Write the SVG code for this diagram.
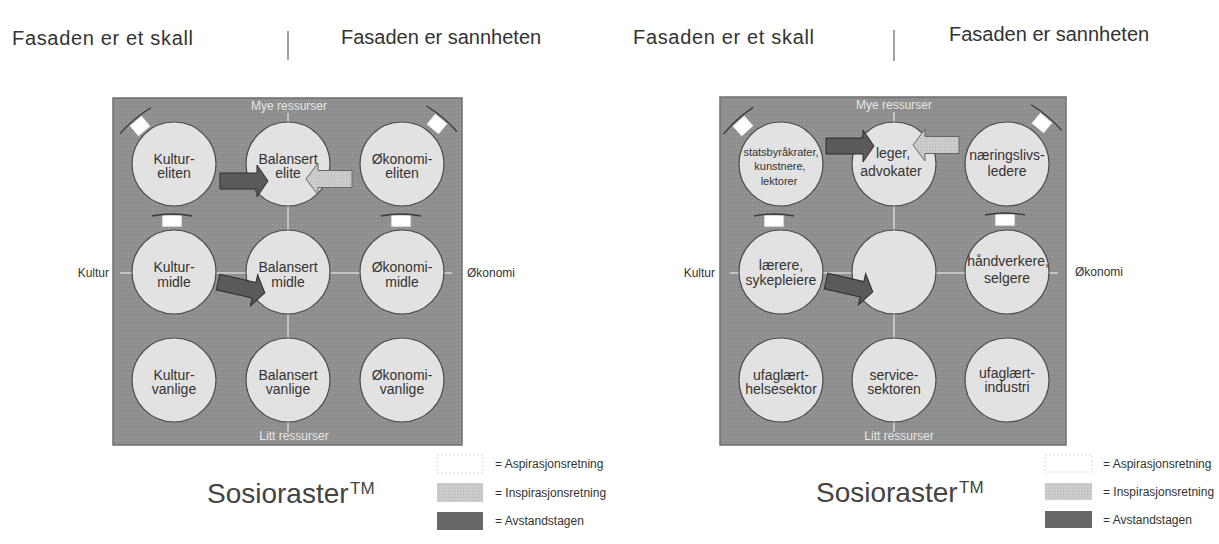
<svg xmlns="http://www.w3.org/2000/svg" width="1219" height="544" viewBox="0 0 1219 544">
<defs>
<pattern id="tex" width="4" height="4" patternUnits="userSpaceOnUse">
<rect width="4" height="4" fill="#8f8f8f"/><rect width="1" height="1" fill="#9b9b9b"/><rect x="2" y="2" width="1" height="1" fill="#858585"/><rect x="2" y="0" width="1" height="1" fill="#939393"/>
</pattern>
<pattern id="ltex" width="3" height="3" patternUnits="userSpaceOnUse">
<rect width="3" height="3" fill="#c9c9c9"/><rect width="1" height="1" fill="#d6d6d6"/><rect x="1" y="2" width="1" height="1" fill="#bdbdbd"/>
</pattern>
<path id="darkArrow" d="M0,-8 H37 V-16 L48,0 L37,16 V8 H0 Z"/>
<path id="lightArrow" d="M0,0 L12,-16 V-8.5 H46 V8.5 H12 V16 Z"/>
<g id="aspArrow">
<rect x="-10" y="-6" width="20" height="12" fill="#ffffff" stroke="#9a9a9a" stroke-width="0.8"/>
<path d="M-20,-5 Q0,-9 20,-5" fill="none" stroke="#3a3a3a" stroke-width="1.3"/>
</g>
<g id="aspArrowD">
<rect x="-8" y="-7" width="16" height="14" fill="#ffffff" stroke="#9a9a9a" stroke-width="0.8"/>
<path d="M-20,-7 Q0,-10 20,-7" fill="none" stroke="#3a3a3a" stroke-width="1.3"/>
</g>
</defs>
<style>
.hdr{font-family:"Liberation Sans",Arial,sans-serif;font-size:20px;fill:#333}
.panel{fill:url(#tex);stroke:#6f6f6f;stroke-width:1.5}
.axis{stroke:#d4d4d4;stroke-width:1.5;fill:none}
.node circle{fill:#e2e2e2;stroke:#4a4a4a;stroke-width:1.2}
.node text{font-family:"Liberation Sans",Arial,sans-serif;font-size:14px;fill:#333;text-anchor:middle}
.node text.sm{font-size:11px}
.res{font-family:"Liberation Sans",Arial,sans-serif;font-size:12px;fill:#e6e6e6;text-anchor:middle}
.axl{font-family:"Liberation Sans",Arial,sans-serif;font-size:12px;fill:#333}
.dark{fill:#5a5a5a;stroke:#2c2c2c;stroke-width:1}
.light{fill:url(#ltex);stroke:#666;stroke-width:1}
.leg{font-family:"Liberation Sans",Arial,sans-serif;font-size:12px;fill:#333}
.title{font-family:"Liberation Sans",Arial,sans-serif;font-size:28px;fill:#444}
.tm{font-family:"Liberation Sans",Arial,sans-serif;font-size:17px;fill:#444}
</style>
<rect width="1219" height="544" fill="#ffffff"/>

<!-- headers -->
<g id="headers">
<text class="hdr" x="12" y="45" textLength="181" lengthAdjust="spacing">Fasaden er et skall</text>
<line x1="288" y1="31" x2="288" y2="60" stroke="#444" stroke-width="1"/>
<text class="hdr" x="341" y="44">Fasaden er sannheten</text>
<text class="hdr" x="633" y="44" textLength="181" lengthAdjust="spacing">Fasaden er et skall</text>
<line x1="894" y1="30" x2="894" y2="61" stroke="#444" stroke-width="1"/>
<text class="hdr" x="949" y="41">Fasaden er sannheten</text>
</g>

<!-- LEFT PANEL -->
<g id="left-panel">
<rect class="panel" x="113" y="98" width="349" height="347"/>
<line class="axis" x1="120" y1="273" x2="452" y2="273"/>
<line class="axis" x1="288" y1="113" x2="288" y2="432"/>
<text class="res" x="289" y="110">Mye ressurser</text>
<text class="res" x="294" y="440">Litt ressurser</text>
<text class="axl" x="109" y="277" text-anchor="end">Kultur</text>
<text class="axl" x="467" y="277">Økonomi</text>
</g>

<g id="L-kultur-eliten" class="node"><circle cx="174" cy="164" r="42"/><text x="174" y="164">Kultur-</text><text x="174" y="178">eliten</text></g>
<g id="L-balansert-elite" class="node"><circle cx="288" cy="164" r="42"/><text x="288" y="164">Balansert</text><text x="288" y="178">elite</text></g>
<g id="L-okonomi-eliten" class="node"><circle cx="402" cy="164" r="42"/><text x="402" y="164">Økonomi-</text><text x="402" y="178">eliten</text></g>
<g id="L-kultur-midle" class="node"><circle cx="174" cy="272" r="42"/><text x="174" y="272">Kultur-</text><text x="174" y="287">midle</text></g>
<g id="L-balansert-midle" class="node"><circle cx="288" cy="272" r="42"/><text x="288" y="272">Balansert</text><text x="288" y="287">midle</text></g>
<g id="L-okonomi-midle" class="node"><circle cx="402" cy="272" r="42"/><text x="402" y="272">Økonomi-</text><text x="402" y="287">midle</text></g>
<g id="L-kultur-vanlige" class="node"><circle cx="174" cy="380" r="42"/><text x="174" y="380">Kultur-</text><text x="174" y="394">vanlige</text></g>
<g id="L-balansert-vanlige" class="node"><circle cx="288" cy="380" r="42"/><text x="288" y="380">Balansert</text><text x="288" y="394">vanlige</text></g>
<g id="L-okonomi-vanlige" class="node"><circle cx="402" cy="380" r="42"/><text x="402" y="380">Økonomi-</text><text x="402" y="394">vanlige</text></g>

<!-- RIGHT PANEL -->
<g id="right-panel">
<rect class="panel" x="720" y="97" width="346" height="348"/>
<line class="axis" x1="730" y1="273" x2="1058" y2="273"/>
<line class="axis" x1="894" y1="112" x2="894" y2="432"/>
<text class="res" x="894" y="109">Mye ressurser</text>
<text class="res" x="899" y="440">Litt ressurser</text>
<text class="axl" x="715" y="277" text-anchor="end">Kultur</text>
<text class="axl" x="1075" y="276">Økonomi</text>
</g>

<g id="R-statsbyrakrater" class="node"><circle cx="781" cy="164" r="42"/><text class="sm" x="781" y="156">statsbyråkrater,</text><text class="sm" x="780" y="170">kunstnere,</text><text class="sm" x="779" y="185">lektorer</text></g>
<g id="R-leger" class="node"><circle cx="894" cy="164" r="42"/><text x="893" y="158">leger,</text><text x="891" y="176">advokater</text></g>
<g id="R-naeringslivsledere" class="node"><circle cx="1007" cy="164" r="42"/><text x="1007" y="160">næringslivs-</text><text x="1007" y="176">ledere</text></g>
<g id="R-laerere" class="node"><circle cx="781" cy="272" r="42"/><text x="781" y="270">lærere,</text><text x="781" y="285">sykepleiere</text></g>
<g id="R-center" class="node"><circle cx="894" cy="272" r="42"/></g>
<g id="R-handverkere" class="node"><circle cx="1007" cy="272" r="42"/><text x="1008" y="266">håndverkere,</text><text x="1007" y="283">selgere</text></g>
<g id="R-ufaglaert-helse" class="node"><circle cx="781" cy="380" r="42"/><text x="781" y="380">ufaglært-</text><text x="781" y="394">helsesektor</text></g>
<g id="R-service" class="node"><circle cx="894" cy="380" r="42"/><text x="894" y="380">service-</text><text x="894" y="394">sektoren</text></g>
<g id="R-ufaglaert-industri" class="node"><circle cx="1007" cy="380" r="42"/><text x="1007" y="378">ufaglært-</text><text x="1007" y="392">industri</text></g>

<!-- connectors -->
<g id="connectors">
<use href="#darkArrow" class="dark" transform="translate(220,181)"/>
<use href="#lightArrow" class="light" transform="translate(306,179)"/>
<use href="#darkArrow" class="dark" transform="translate(218,282) rotate(13)"/>
<use href="#aspArrowD" transform="translate(140,126) rotate(-40)"/>
<use href="#aspArrowD" transform="translate(437,124) rotate(40)"/>
<use href="#aspArrow" transform="translate(172,221)"/>
<use href="#aspArrow" transform="translate(401,221)"/>

<use href="#darkArrow" class="dark" transform="translate(826,146)"/>
<use href="#lightArrow" class="light" transform="translate(913,145)"/>
<use href="#darkArrow" class="dark" transform="translate(826,281) rotate(13)"/>
<use href="#aspArrowD" transform="translate(743,126) rotate(-42)"/>
<use href="#aspArrowD" transform="translate(1042,123) rotate(40)"/>
<use href="#aspArrow" transform="translate(774,221)"/>
<use href="#aspArrow" transform="translate(1005,220)"/>
</g>

<!-- legends -->
<g id="left-legend">
<rect x="437" y="455" width="46" height="18" fill="#ffffff" stroke="#d0d0d0" stroke-width="0.8" stroke-dasharray="2,2"/>
<rect x="437" y="483" width="46" height="19" fill="url(#ltex)"/>
<rect x="437" y="512" width="46" height="18" fill="#666666"/>
<text class="leg" x="495" y="468">= Aspirasjonsretning</text>
<text class="leg" x="495" y="497">= Inspirasjonsretning</text>
<text class="leg" x="495" y="525">= Avstandstagen</text>
<text class="title" x="207" y="503">Sosioraster</text>
<text class="tm" x="350" y="494">TM</text>
</g>
<g id="right-legend">
<rect x="1045" y="455" width="47" height="17" fill="#ffffff" stroke="#d0d0d0" stroke-width="0.8" stroke-dasharray="2,2"/>
<rect x="1045" y="483" width="47" height="17" fill="url(#ltex)"/>
<rect x="1045" y="511" width="47" height="17" fill="#666666"/>
<text class="leg" x="1103" y="468">= Aspirasjonsretning</text>
<text class="leg" x="1103" y="496">= Inspirasjonsretning</text>
<text class="leg" x="1103" y="524">= Avstandstagen</text>
<text class="title" x="816" y="502">Sosioraster</text>
<text class="tm" x="959" y="493">TM</text>
</g>
</svg>
